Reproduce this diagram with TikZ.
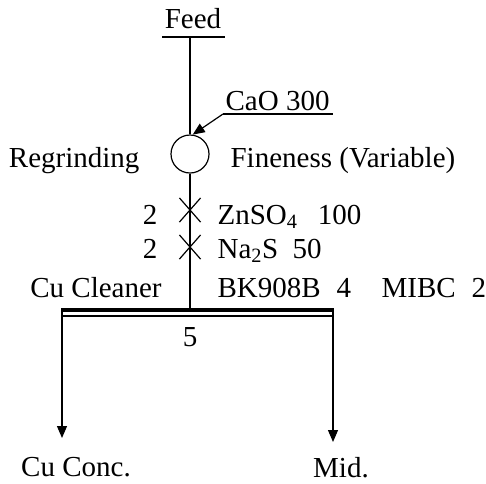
\documentclass[tikz,border=0pt]{standalone}
\usepackage{fontspec}
\setmainfont{Liberation Serif}
\usetikzlibrary{arrows.meta,shapes.misc}

\begin{document}
\begin{tikzpicture}[x=1pt,y=-1pt,line width=1.2pt,
  lbl/.style={inner sep=0pt,font=\fontsize{29}{35}\selectfont},
  flow/.style={-{Triangle[length=12pt,width=10pt]}}]
\useasboundingbox (0,0) rectangle (486,483);
\node[lbl,anchor=base](feed) at (193,28){Feed};
\coordinate (fl) at (162,37); \coordinate (fr) at (225,37); \coordinate (ff) at (190,37);
\draw (fl) -- (fr);
\node[lbl,anchor=base west](cao) at (225,110){CaO 300};
\coordinate (cl) at (223,114); \coordinate (cr) at (333,114);
\draw (cl) -- (cr);
\node[draw,circle,minimum size=38pt,inner sep=0pt](mill) at (190,154){};
\node[lbl,anchor=base east](regr) at (140,167){Regrinding};
\node[lbl,anchor=base west](fine) at (230,167){Fineness (Variable)};
\draw (ff) -- (mill);
\draw[flow] (cl) -- (mill.82);
\node[draw,cross out,minimum width=20pt,minimum height=23pt,inner sep=0pt](x1) at (190,210){};
\node[draw,cross out,minimum width=20pt,minimum height=23pt,inner sep=0pt](x2) at (190,247){};
\node[lbl,anchor=base](n1) at (150,224){2};
\node[lbl,anchor=base](n2) at (150,258){2};
\node[lbl,anchor=base west](zn) at (217,224){ZnSO\textsubscript{4}\hspace{0.7em}100};
\node[lbl,anchor=base west](na) at (217,258){Na\textsubscript{2}S\hspace{0.5em}50};
\node[lbl,anchor=base](cu) at (96,297){Cu Cleaner};
\node[lbl,anchor=base west](bk) at (217,297){BK908B\hspace{0.55em}4\hspace{1.05em}MIBC\hspace{0.55em}2};
\coordinate (bar) at (190,308);
\draw (mill) -- (bar);
\coordinate (bl) at (62,310); \coordinate (br) at (333,310);
\draw[line width=4.5pt] (bl) -- (br);
\coordinate (tl) at (62,316); \coordinate (tr) at (333,316);
\draw (tl) -- (tr);
\node[lbl,anchor=base](cells) at (190,346){5};
\coordinate (lt) at (62,308); \coordinate (rt) at (333,308);
\coordinate (le) at (62,438); \coordinate (re) at (333,442);
\draw[flow] (lt) -- (le);
\draw[flow] (rt) -- (re);
\node[lbl,anchor=base](conc) at (76,476){Cu Conc.};
\node[lbl,anchor=base](mid) at (341,477){Mid.};
\end{tikzpicture}
\end{document}
